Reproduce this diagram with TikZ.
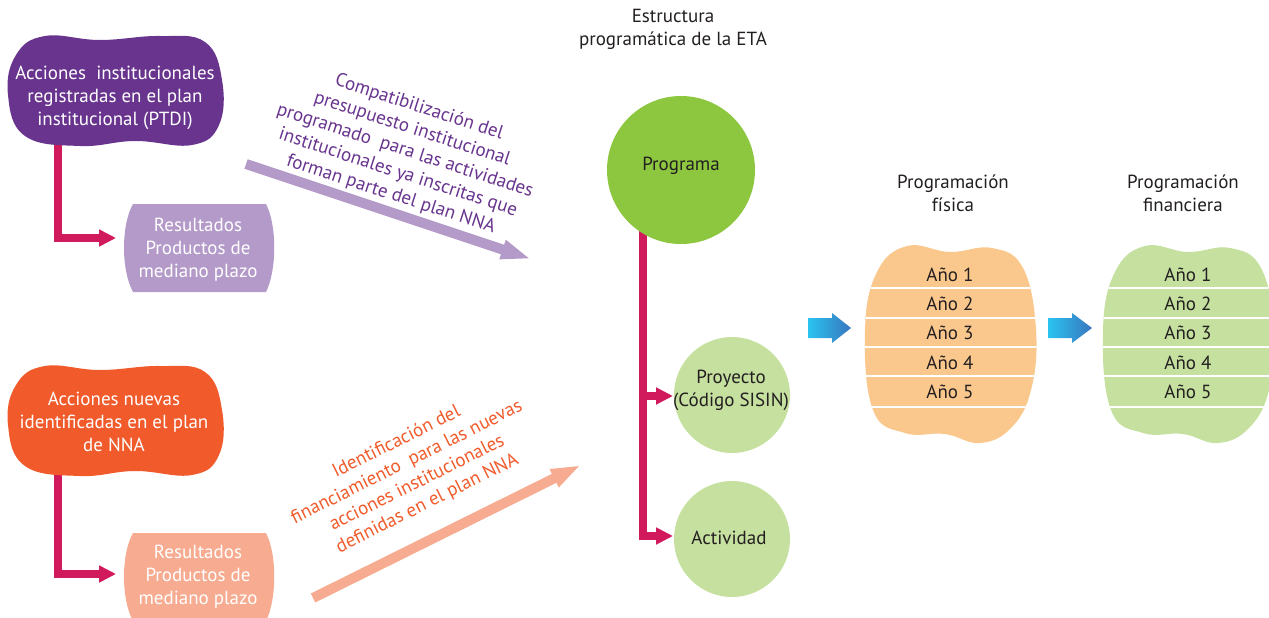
\documentclass[tikz,border=0pt]{standalone}
\usepackage{fontspec}
\setmainfont{PT Sans}
\usetikzlibrary{arrows.meta}
\definecolor{purpleD}{RGB}{104,52,142}
\definecolor{purpleL}{RGB}{179,154,201}
\definecolor{orangeD}{RGB}{241,91,43}
\definecolor{salmon}{RGB}{247,171,144}
\definecolor{magentaC}{RGB}{209,26,92}
\definecolor{greenD}{RGB}{141,198,63}
\definecolor{greenL}{RGB}{197,224,159}
\definecolor{orangeL}{RGB}{250,199,140}
\definecolor{cyanA}{RGB}{41,196,240}
\definecolor{blueA}{RGB}{58,117,190}
\definecolor{darktxt}{RGB}{35,31,32}
\begin{document}
\begin{tikzpicture}[x=0.025cm,y=-0.025cm,
  txt/.style={font=\fontsize{13.5}{16.3}\selectfont, align=center, inner sep=0pt},
  magconn/.style={draw=magentaC, line width=0.2cm, line join=miter,
     -{Triangle[length=0.42cm,width=0.4cm]}},
  bigarrow/.style={line width=0.25cm, -{Triangle[length=0.75cm,width=0.45cm]}}]
\useasboundingbox (0,0) rectangle (1269,618);
\clip (0,0) rectangle (1269,618);

% ---------- left column connectors ----------
\coordinate (c1s) at (58,140);
\coordinate (c1e) at (116,238);
\coordinate (c2s) at (58,470);
\coordinate (c2e) at (116,574);
\draw[magconn] (c1s) |- (c1e);
\draw[magconn] (c2s) |- (c2e);

% ---------- purple blob ----------
\fill[purpleD] plot[smooth cycle, tension=0.7] coordinates
  {(8,95) (16,55) (45,36) (100,40) (160,36) (205,42) (222,80) (219,125) (192,145) (135,141) (80,146) (25,136)};
\node[txt, text=white] (acc1) at (115,98) {Acciones\ \ institucionales\\registradas en el plan\\institucional (PTDI)};

% ---------- orange blob ----------
\fill[orangeD] plot[smooth cycle, tension=0.7] coordinates
  {(8,425) (16,385) (45,366) (100,370) (160,366) (205,372) (222,410) (219,455) (192,475) (135,471) (80,476) (25,466)};
\node[txt, text=white] (acc2) at (114,422) {Acciones nuevas\\identificadas en el plan\\de NNA};

% ---------- Resultados boxes ----------
\fill[purpleL] (133,204) -- (266,204) .. controls (277,225) and (277,270) .. (266,292) -- (133,292) .. controls (121,270) and (121,225) .. (133,204) -- cycle;
\node[txt, text=white] (res1) at (198,250) {Resultados\\Productos de\\mediano plazo};
\fill[salmon] (133,533) -- (266,533) .. controls (277,554) and (277,599) .. (266,621) -- (133,621) .. controls (121,599) and (121,554) .. (133,533) -- cycle;
\node[txt, text=white] (res2) at (198,577) {Resultados\\Productos de\\mediano plazo};

% ---------- big diagonal arrows ----------
\coordinate (pa1) at (246,164);
\coordinate (pa2) at (531,259);
\draw[bigarrow, draw=purpleL, fill=purpleL] (pa1) -- (pa2);
\node[txt, text=purpleD, rotate=-18] (compat) at (405,151)
  {Compatibilización del\\presupuesto institucional\\programado\ \ para las actividades\\institucionales ya inscritas que\\forman parte del plan NNA};

\coordinate (sa1) at (313,598);
\coordinate (sa2) at (581,465);
\draw[bigarrow, draw=salmon, fill=salmon] (sa1) -- (sa2);
\node[txt, text=orangeD, rotate=26.5] (ident) at (412,473)
  {Identificación del\\financiamiento\ \ para las nuevas\\acciones institucionales\\definidas en el plan NNA};

% ---------- ETA structure ----------
\node[txt, text=darktxt] (title) at (673,29) {Estructura\\programática de la ETA};

\coordinate (vtop) at (643,225);
\coordinate (vbr) at (643,396);
\draw[magconn] (vtop) |- (673,536) coordinate (actw);
\draw[magconn] (vbr) -- (673,396) coordinate (projw);

\fill[greenD] (681,170) circle (74);
\node[txt, text=darktxt] (prog) at (681,166) {Programa};
\fill[greenL] (732,395) circle (58);
\node[txt, text=darktxt] (proj) at (731,390) {Proyecto\\(Código SISIN)};
\fill[greenL] (732,539) circle (58);
\node[txt, text=darktxt] (act) at (729,538) {Actividad};

% ---------- blue arrows ----------
\shade[left color=cyanA, right color=blueA] (808,318) -- (832,318) -- (832,313) -- (851,328) -- (832,343) -- (832,338) -- (808,338) -- cycle;
\shade[left color=cyanA, right color=blueA] (1048,318) -- (1072,318) -- (1072,313) -- (1092,328) -- (1072,343) -- (1072,338) -- (1048,338) -- cycle;

% ---------- programming blobs ----------
\node[txt, text=darktxt] (pfis) at (953,193) {Programación\\física};
\node[txt, text=darktxt] (pfin) at (1183,193) {Programación\\financiera};

\begin{scope}
\fill[orangeL] plot[smooth cycle, tension=0.7] coordinates
  {(865,330) (877,272) (907,246) (950,252) (992,248) (1023,268) (1036,330) (1031,390) (1011,428) (980,443) (945,434) (905,433) (873,410)};
\clip plot[smooth cycle, tension=0.7] coordinates
  {(865,330) (877,272) (907,246) (950,252) (992,248) (1023,268) (1036,330) (1031,390) (1011,428) (980,443) (945,434) (905,433) (873,410)};
\foreach \yy in {288,318,347,376,407} \draw[white, line width=1.3pt] (850,\yy) -- (1050,\yy);
\end{scope}
\begin{scope}[shift={(238,0)}]
\fill[greenL] plot[smooth cycle, tension=0.7] coordinates
  {(865,330) (877,272) (907,246) (950,252) (992,248) (1023,268) (1036,330) (1031,390) (1011,428) (980,443) (945,434) (905,433) (873,410)};
\clip plot[smooth cycle, tension=0.7] coordinates
  {(865,330) (877,272) (907,246) (950,252) (992,248) (1023,268) (1036,330) (1031,390) (1011,428) (980,443) (945,434) (905,433) (873,410)};
\foreach \yy in {288,318,347,376,407} \draw[white, line width=1.3pt] (850,\yy) -- (1050,\yy);
\end{scope}

\foreach \i/\yy in {1/275,2/304,3/333,4/363,5/392} {
  \node[txt, text=darktxt] (f\i) at (950,\yy) {Año \i};
  \node[txt, text=darktxt] (n\i) at (1188,\yy) {Año \i};
}
\end{tikzpicture}
\end{document}
